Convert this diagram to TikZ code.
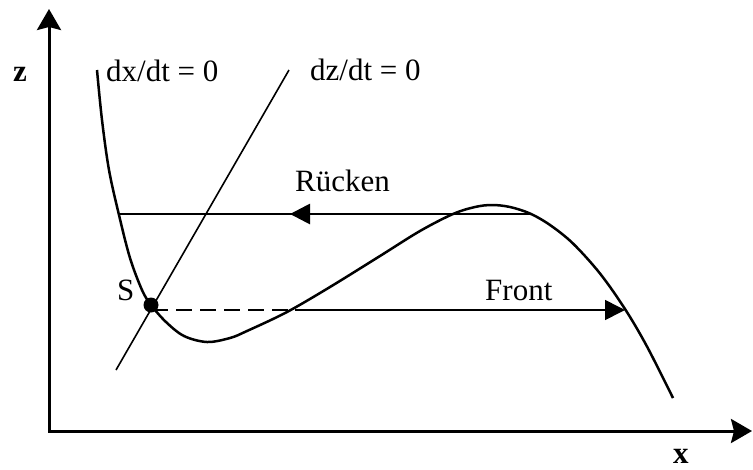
\documentclass[tikz,border=0pt]{standalone}
\usepackage{fontspec}
\setmainfont{Liberation Serif}
\usetikzlibrary{arrows.meta}
\begin{document}
\begin{tikzpicture}[x=1pt,y=-1pt,
  axis/.style={line width=3pt, line join=miter},
  nullcurve/.style={line width=2.5pt},
  thinline/.style={line width=1.6pt},
  flowtip/.style={-{Triangle[length=20pt,width=20pt]}},
  lbl/.style={font=\fontsize{31}{36}\selectfont, inner sep=0pt, anchor=base west},
  axlbl/.style={font=\fontsize{31}{36}\selectfont\bfseries, inner sep=0pt, anchor=base west}]
\useasboundingbox (0,0) rectangle (753,469);
% axes
\coordinate (O) at (49,431);
\coordinate (ztip) at (49,9);
\coordinate (xtip) at (752,431);
\draw[axis, {Stealth[length=21pt,width=24pt,inset=3pt]}-{Stealth[length=21pt,width=24pt,inset=3pt]}] (ztip) -- (O) -- (xtip);
\node[axlbl] (zl) at (13,81) {z};
\node[axlbl] (xl) at (673,463) {x};
% dz/dt = 0 nullcline
\coordinate (n1) at (116,370);
\coordinate (n2) at (289,70);
\draw[thinline] (n1) -- (n2);
% dx/dt = 0 nullcline
\draw[nullcurve, line cap=butt] plot[smooth, tension=0.55] coordinates {
 (97,70) (102,120) (109,170) (119,215) (130,258) (142,290) (151,305)
 (166,322) (184,336) (207,342) (230,338) (247,331) (287,312) (330,287)
 (380,256) (420,231) (453,214) (475,207) (492,205) (510,207) (530,213.5)
 (550,225) (573,243.5) (600,273.5) (625,309) (647,346.5) (673,398)};
% labels
\node[lbl] (dxl) at (106,81) {dx/dt = 0};
\node[lbl] (dzl) at (310,80) {dz/dt = 0};
\node[lbl] (rl) at (295,191) {Rücken};
\node[lbl] (fl) at (485,300) {Front};
\node[lbl] (sl) at (117,300) {S};
% Ruecken
\coordinate (R0) at (120,214);
\coordinate (R1) at (530,214);
\coordinate (Ra) at (385,214);
\coordinate (Rb) at (290,214);
\draw[thinline] (R1) -- (R0);
\draw[line width=2.8pt, flowtip] (Ra) -- (Rb);
% Front
\coordinate (F0) at (152,310);
\coordinate (F1) at (295,310);
\coordinate (F2) at (625,310);
\draw[thinline, dash pattern=on 16pt off 8pt] (F0) -- (F1);
\draw[thinline, flowtip] (F1) -- (F2);
% S point
\node[circle, fill=black, minimum size=15pt, inner sep=0pt] (S) at (151,305) {};
\end{tikzpicture}
\end{document}
